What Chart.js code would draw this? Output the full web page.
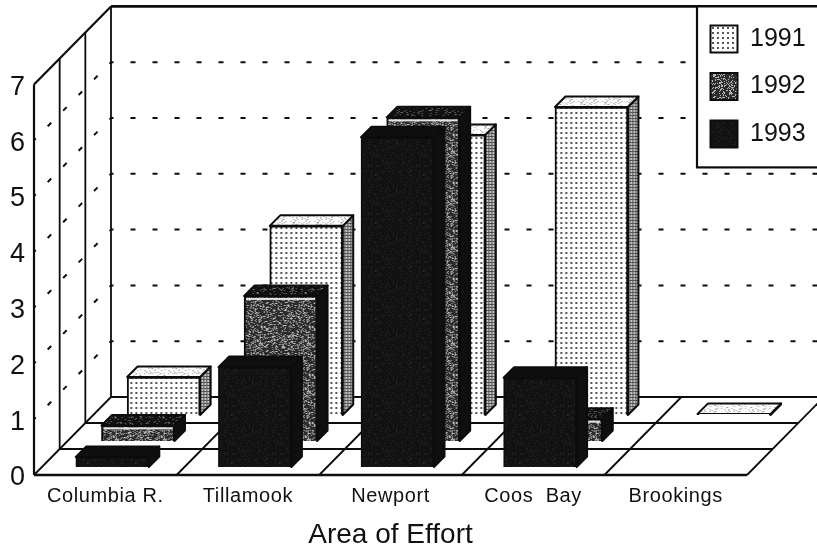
<!DOCTYPE html>
<html>
<head>
<meta charset="utf-8">
<style>html,body{margin:0;padding:0;background:#fff}canvas{display:block}</style>
<script src="https://cdn.jsdelivr.net/npm/chart.js@4"></script>
</head>
<body>
<canvas id="c" width="817" height="552"></canvas>
<script>
const categories = ["Columbia R.", "Tillamook", "Newport", "Coos  Bay", "Brookings"];
const years = ["1991", "1992", "1993"];
const values1991 = [0.68, 3.39, 5.02, 5.52, 0.02];
const values1992 = [0.28, 2.6, 5.8, 0.4, null];
const values1993 = [0.18, 1.79, 5.91, 1.6, null];

const FLOOR_DX = 77, FLOOR_DY = 78, ROWS = 3, BAR_DEPTH = 10.5;
const INK = "#0c0c0c";

function tile(w, h, paint) {
  const c = document.createElement("canvas");
  c.width = w; c.height = h;
  paint(c.getContext("2d"), w, h);
  return c.getContext("2d").createPattern(c, "repeat");
}
function speck(x, y) {
  let n = (x * 374761393 + y * 668265263) | 0;
  n = Math.imul(n ^ (n >>> 13), 1274126177);
  return ((n ^ (n >>> 16)) >>> 0) / 4294967296;
}
function noiseTile(size, cell, threshold, dark, light) {
  return tile(size, size, (g) => {
    for (let y = 0; y < size; y += cell) for (let x = 0; x < size; x += cell) {
      g.fillStyle = speck(x, y) < threshold ? dark : light;
      g.fillRect(x, y, cell, cell);
    }
  });
}
const dotsFront = tile(5, 5, (g) => {
  g.fillStyle = "#fff"; g.fillRect(0, 0, 5, 5);
  g.fillStyle = "#555"; g.fillRect(2, 2, 2, 2);
});
const dotsSide = tile(3, 3, (g) => {
  g.fillStyle = "#c4c4c4"; g.fillRect(0, 0, 3, 3);
  g.fillStyle = "#555"; g.fillRect(1, 0, 1, 3); g.fillRect(0, 1, 3, 1);
});
const dotsTop = noiseTile(24, 1, 0.16, "#999", "#fff");
const mottledFront = noiseTile(48, 1, 0.72, "#2c2c2c", "#b4b4b4");
const mottledTop = noiseTile(48, 1, 0.88, "#111", "#777");
const darkFront = noiseTile(48, 1, 0.92, "#121212", "#262626");
const black = "#0f0f0f";

const faces = [
  { front: dotsFront, side: dotsSide, top: dotsTop, row: 2 },
  { front: mottledFront, side: black, top: mottledTop, row: 1, rim: "#e4e4e4" },
  { front: darkFront, side: black, top: black, row: 0 }
];
function rowOffset(row) {
  return { x: 7 + row * FLOOR_DX / ROWS, y: -8 - row * FLOOR_DY / ROWS };
}
function poly(ctx, pts, fill) {
  ctx.beginPath();
  pts.forEach((p, i) => i ? ctx.lineTo(p[0], p[1]) : ctx.moveTo(p[0], p[1]));
  ctx.closePath();
  ctx.fillStyle = fill; ctx.fill();
  ctx.lineWidth = 2; ctx.strokeStyle = INK; ctx.lineJoin = "round"; ctx.stroke();
}
function line(ctx, x1, y1, x2, y2, w) {
  ctx.lineWidth = w;
  ctx.beginPath(); ctx.moveTo(x1, y1); ctx.lineTo(x2, y2); ctx.stroke();
}

const scene3d = {
  id: "scene3d",
  afterLayout(chart) {
    const ctx = chart.ctx, xs = chart.scales.x, lg = chart.legend;
    lg.left = 690; lg.right = 817; lg.top = 5; lg.bottom = 170;
    if (!xs._spaced) {
      xs._spaced = true;
      const draw = xs.drawLabels.bind(xs);
      xs.drawLabels = (a) => { ctx.letterSpacing = "0.6px"; draw(a); ctx.letterSpacing = "0px"; };
    }
  },
  beforeDraw(chart) {
    const ctx = chart.ctx, xs = chart.scales.x, ys = chart.scales.y;
    const L = xs.left, R = xs.right, Y0 = ys.getPixelForValue(0), YT = ys.getPixelForValue(7);
    ctx.save();
    ctx.fillStyle = "#fff"; ctx.fillRect(0, 0, chart.width, chart.height);
    ctx.strokeStyle = INK; ctx.lineCap = "butt";
    // dashed value lines on both walls
    ctx.setLineDash([5, 17]); ctx.lineDashOffset = 2.5;
    for (let v = 1; v < 7; v++) {
      const y = ys.getPixelForValue(v);
      line(ctx, L, y, L + FLOOR_DX, y - FLOOR_DY, 2);
      line(ctx, L + FLOOR_DX, y - FLOOR_DY, chart.width, y - FLOOR_DY, 2);
    }
    ctx.setLineDash([]);
    // wall verticals and floor rows
    for (let r = 0; r <= ROWS; r++) {
      const dx = r * FLOOR_DX / ROWS, dy = r * FLOOR_DY / ROWS;
      line(ctx, L + dx, YT - dy, L + dx, Y0 - dy, r === 0 ? 2.2 : 1.8);
      line(ctx, L + dx, Y0 - dy, R + dx, Y0 - dy, r === 0 ? 2.4 : 1.8);
    }
    // floor depth lines at category boundaries
    const n = categories.length;
    for (let i = 0; i <= n; i++) {
      const x = L + i * (R - L) / n;
      line(ctx, x, Y0, x + FLOOR_DX, Y0 - FLOOR_DY, 1.8);
    }
    // top edges
    line(ctx, L, YT, L + FLOOR_DX, YT - FLOOR_DY, 2.2);
    line(ctx, L + FLOOR_DX, YT - FLOOR_DY, chart.width, YT - FLOOR_DY, 2.6);
    // legend frame
    ctx.fillStyle = "#fff"; ctx.fillRect(697, YT - FLOOR_DY, 130, 161);
    ctx.lineWidth = 2.2; ctx.strokeRect(697, YT - FLOOR_DY, 130, 161);
    ctx.restore();
  },
  beforeDatasetDraw(chart, args) {
    const ctx = chart.ctx, f = faces[args.index], o = rowOffset(f.row), d = BAR_DEPTH;
    const values = chart.data.datasets[args.index].data;
    ctx.save();
    ctx.translate(o.x, o.y);
    args.meta.data.forEach((el, i) => {
      if (values[i] === null) return;
      const l = el.x - el.width / 2, r = el.x + el.width / 2;
      poly(ctx, [[r, el.y], [r + d, el.y - d], [r + d, el.base - d], [r, el.base]], f.side);
      poly(ctx, [[l, el.y], [l + d, el.y - d], [r + d, el.y - d], [r, el.y]], f.top);
    });
  },
  afterDatasetDraw(chart, args) {
    const ctx = chart.ctx, f = faces[args.index];
    const values = chart.data.datasets[args.index].data;
    if (f.rim) {
      ctx.fillStyle = f.rim;
      args.meta.data.forEach((el, i) => {
        if (values[i] === null) return;
        ctx.fillRect(el.x - el.width / 2 + 2, el.y + 2, el.width - 4, 2);
      });
    }
    ctx.restore();
  }
};

const makeSet = (label, data, i) => ({
  label, data, order: ROWS - i,
  backgroundColor: faces[i].front,
  borderColor: INK, borderWidth: 2,
  barThickness: 73, grouped: false, clip: false
});
const sets = [values1991, values1992, values1993].map((v, i) => makeSet(years[i], v, i));

new Chart(document.getElementById("c"), {
  type: "bar",
  data: { labels: categories, datasets: sets },
  plugins: [scene3d],
  options: {
    responsive: false, animation: false,
    layout: { padding: { left: 0, right: 70, top: 84.4, bottom: 0 } },
    plugins: {
      tooltip: { enabled: false },
      title: { display: false },
      legend: {
        position: "chartArea", align: "start",
        labels: { boxWidth: 27, boxHeight: 27, padding: 20.5, color: "#111",
          sort: (a, b) => a.datasetIndex - b.datasetIndex,
          font: { family: "'Liberation Sans'", size: 25 } }
      }
    },
    scales: {
      x: {
        offset: true,
        afterFit(s) { s.height = 77; },
        grid: { display: false }, border: { display: false },
        ticks: { autoSkip: false, maxRotation: 0, padding: 1, color: "#111",
          font: { family: "'Liberation Sans'", size: 20 } },
        title: { display: true, text: "Area of Effort", color: "#111", padding: 0,
          font: { family: "'Liberation Sans'", size: 28 } }
      },
      y: {
        min: 0, max: 7,
        afterFit(s) { s.width = 34; },
        grid: { display: false }, border: { display: false },
        ticks: { stepSize: 1, padding: 1, labelOffset: 3, color: "#111",
          font: { family: "'Liberation Sans'", size: 27 } }
      }
    }
  }
});
</script>
</body>
</html>
